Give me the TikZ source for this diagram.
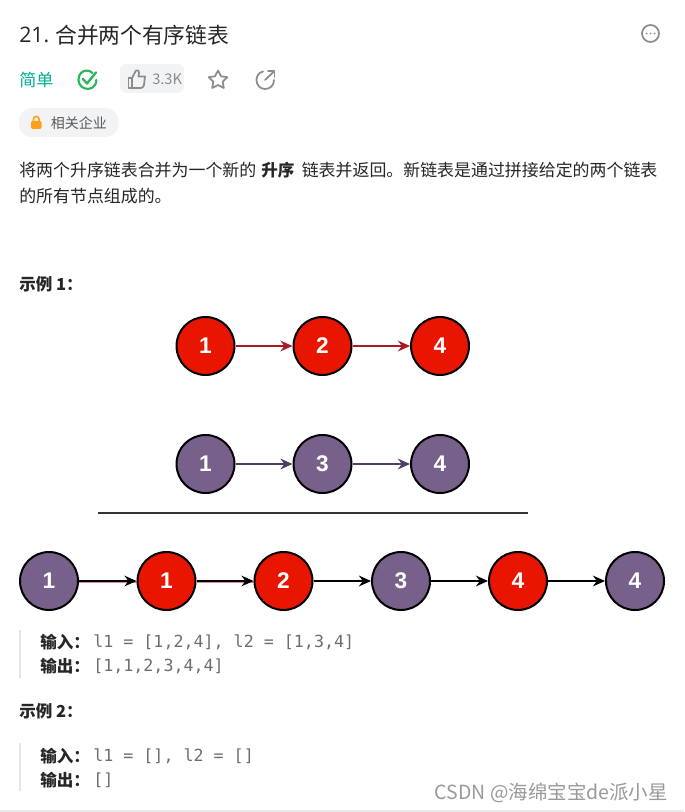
\documentclass[tikz,border=0pt]{standalone}
\usepackage{fontspec}
\setmainfont{Noto Sans CJK SC}
\setmonofont{DejaVu Sans Mono}
\newfontfamily\numfont{Liberation Sans}
\newfontfamily\latinfont{Open Sans}
\usetikzlibrary{arrows.meta}
\definecolor{txt}{HTML}{262626}
\definecolor{redn}{HTML}{E81500}
\definecolor{purn}{HTML}{77608A}
\definecolor{reda}{HTML}{A81C28}
\definecolor{pura}{HTML}{4F3D66}
\definecolor{greyi}{HTML}{8C8C8C}
\definecolor{chip}{HTML}{F2F3F5}
\definecolor{teal1}{HTML}{00AF9B}
\definecolor{green1}{HTML}{2DB55D}
\definecolor{mono}{HTML}{6E6E6E}
\definecolor{lockc}{HTML}{FFA116}
\tikzset{
  x=0.75pt,y=-0.75pt,
  circ/.style={circle,draw=black,line width=1.5pt,minimum size=43.5pt,inner sep=0pt,text=white,font=\fontsize{17}{17}\selectfont\numfont\bfseries},
  rednode/.style={circ,fill=redn},
  purnode/.style={circ,fill=purn},
  redlink/.style={draw=reda,line width=1.5pt,-{Stealth[length=9pt,width=8pt]}},
  purlink/.style={draw=pura,line width=1.5pt,-{Stealth[length=9pt,width=8pt]}},
  blklink/.style={draw=black,line width=1.5pt,-{Stealth[length=9pt,width=8pt]}},
  t/.style={anchor=west,inner sep=0pt,text=txt},
  body/.style={t,font=\fontsize{12.7}{12.7}\selectfont},
  bodyb/.style={t,font=\fontsize{12.4}{12.4}\selectfont\bfseries},
  code/.style={anchor=west,inner sep=0pt,text=mono,font=\fontsize{12.5}{12.5}\selectfont\ttfamily},
  icon/.style={draw=greyi,line width=1.3pt,line join=round,line cap=round},
}
\begin{document}
\begin{tikzpicture}
\useasboundingbox (0,0) rectangle (684,812);
\fill[white] (0,0) rectangle (684,812);
\draw[draw=black!8,line width=0.8pt] (0,811) -- (684,811);
% header
\node[t,font=\fontsize{16}{16}\selectfont] (title) at (19,35) {\latinfont\fontsize{16}{16}\selectfont 21.};
\node[t,font=\fontsize{16.3}{16.3}\selectfont] (titleb) at (55,35) {合并两个有序链表};
\draw[icon] (650.5,33.5) circle (8.5);
\foreach \dx in {-4,0,4} \fill[greyi] (650.5+\dx,33.5) circle (1);
\node[t,text=teal1,font=\fontsize{12.8}{12.8}\selectfont] (level) at (19,80) {简单};
% check icon
\draw[draw=green1,line width=1.6pt,line cap=round] (92.5,73) .. controls (89,69.5) and (84,70) .. (81,73) .. controls (77,77) and (78,84) .. (82,87) .. controls (86,90) and (92,89.5) .. (95,85) .. controls (96,83.5) and (96.3,82) .. (96.3,80);
\draw[draw=green1,line width=1.8pt,line cap=round,line join=round] (83,79) -- (87,83.5) -- (96,72.5);
% like chip
\fill[chip,rounded corners=5pt] (120,64) rectangle (184,93);
\draw[icon] (128.5,78) rectangle (132,88);
\draw[icon] (132,78) -- (136,70.5) .. controls (138,69.5) and (139.5,71) .. (139,73) -- (138.5,76.5) -- (145,76.5) -- (144,85) .. controls (143.5,87.5) and (142,88) .. (140.5,88) -- (132,88);
\node[t,text=greyi,font=\fontsize{11}{11}\selectfont] (likes) at (152,79) {3.3K};
% star
\draw[icon] (218,70.5) -- (221,76.3) -- (227.3,77.2) -- (222.7,81.7) -- (223.8,88) -- (218,85) -- (212.2,88) -- (213.3,81.7) -- (208.7,77.2) -- (215,76.3) -- cycle;
% share
\draw[icon] (263,71.5) .. controls (258,72.5) and (256.5,77) .. (256.5,80) .. controls (256.5,85.5) and (260.5,89) .. (265,89) .. controls (270,89) and (274,85.5) .. (274,80);
\draw[icon] (265,80) -- (274,71.5);
\draw[icon] (268,71) -- (274.5,71) -- (274.5,77);
% company chip
\fill[chip,rounded corners=9.5pt] (19,108) rectangle (118.5,137);
\fill[lockc,rounded corners=1pt] (31,121) rectangle (41.5,129);
\draw[lockc,line width=1.2pt] (33.3,121) -- (33.3,119.5) .. controls (33.3,115.5) and (39.2,115.5) .. (39.2,119.5) -- (39.2,121);
\node[t,text=black!65,font=\fontsize{10.5}{10.5}\selectfont] (company) at (50.5,123) {相关企业};
% description
\node[body] (d1a) at (19,170) {将两个升序链表合并为一个新的};
\node[bodyb] (d1b) at (261,170) {升序};
\node[body] (d1c) at (301.5,170) {链表并返回。新链表是通过拼接给定的两个链表};
\node[body] (d2) at (19,196) {的所有节点组成的。};
\node[bodyb] (ex1) at (19,284) {示例 1：};
% list 1
\node[rednode] (a1) at (205.5,346) {1};
\node[rednode] (a2) at (322.5,346) {2};
\node[rednode] (a3) at (440,346) {4};
\draw[redlink] (a1) -- (a2);
\draw[redlink] (a2) -- (a3);
% list 2
\node[purnode] (b1) at (205.5,464) {1};
\node[purnode] (b2) at (322.5,464) {3};
\node[purnode] (b3) at (440,464) {4};
\draw[purlink] (b1) -- (b2);
\draw[purlink] (b2) -- (b3);
% rule
\coordinate (r1) at (98,513);
\coordinate (r2) at (528,513);
\draw[draw=black!80,line width=1.7pt] (r1) -- (r2);
% merged
\node[purnode] (c1) at (49,581) {1};
\node[rednode] (c2) at (166.5,581) {1};
\node[rednode] (c3) at (283.5,581) {2};
\node[purnode] (c4) at (401,581) {3};
\node[rednode] (c5) at (518,581) {4};
\node[purnode] (c6) at (635,581) {4};
\draw[reda,line width=1.3pt,opacity=.5] ([yshift=-0.6pt]c1.east) -- ([yshift=-0.6pt]c2.west);
\draw[reda,line width=1.3pt,opacity=.5] ([yshift=-0.6pt]c2.east) -- ([yshift=-0.6pt]c3.west);
\draw[blklink] (c1) -- (c2);
\draw[blklink] (c2) -- (c3);
\draw[blklink] (c3) -- (c4);
\draw[blklink] (c4) -- (c5);
\draw[blklink] (c5) -- (c6);
% example 1 text
\coordinate (q1a) at (20,630);
\coordinate (q1b) at (20,678);
\draw[draw=black!10,line width=1.5pt] (q1a) -- (q1b);
\node[bodyb] (in1) at (40,642) {输入：};
\node[code] (in1v) at (93,642) {l1 = [1,2,4], l2 = [1,3,4]};
\node[bodyb] (out1) at (40,666) {输出：};
\node[code] (out1v) at (93,666) {[1,1,2,3,4,4]};
% example 2
\node[bodyb] (ex2) at (19,711) {示例 2：};
\coordinate (q2a) at (20,743);
\coordinate (q2b) at (20,791);
\draw[draw=black!10,line width=1.5pt] (q2a) -- (q2b);
\node[bodyb] (in2) at (40,756) {输入：};
\node[code] (in2v) at (93,756) {l1 = [], l2 = []};
\node[bodyb] (out2) at (40,780) {输出：};
\node[code] (out2v) at (93,780) {[]};
\node[anchor=east,inner sep=0pt,text=black!40,font=\fontsize{14.6}{14.6}\selectfont] (wm) at (668,793) {CSDN @海绵宝宝de派小星};
\end{tikzpicture}
\end{document}
